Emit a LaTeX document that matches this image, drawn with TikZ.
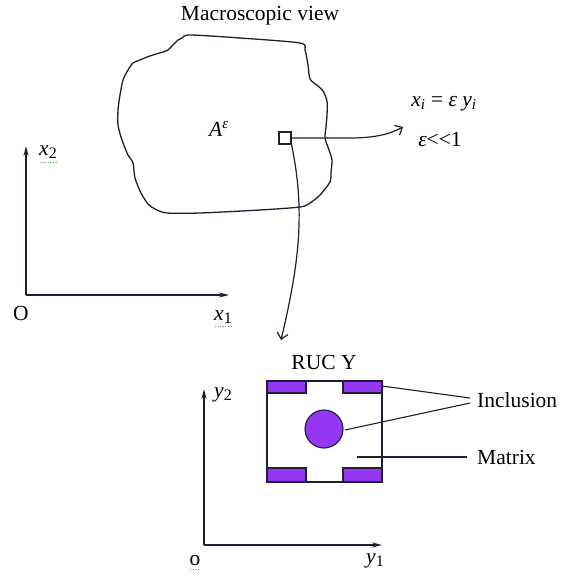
\documentclass[tikz,border=0pt]{standalone}
\usepackage{fontspec}
\setmainfont{Liberation Serif}
\usetikzlibrary{arrows.meta}
\definecolor{incl}{RGB}{150,55,245}
\definecolor{ink}{RGB}{30,30,50}
\newcommand{\dsub}[1]{\raisebox{-3pt}{\fontsize{16}{18}\selectfont #1}}
\tikzset{
  lbl/.style={inner sep=0pt, font=\fontsize{21.5}{24}\selectfont},
  axis/.style={ink, line width=1.4pt, -{Stealth[length=10pt,width=5pt]}},
  curvearrow/.style={ink, line width=1.2pt, -{Straight Barb[length=6pt,width=11pt]}},
  leader/.style={ink, line width=1.1pt},
  incbox/.style={draw=ink, line width=1.1pt, fill=incl},
  squig/.style={gray!70!green, line width=0.6pt, dotted}
}
\begin{document}
\begin{tikzpicture}[x=1pt,y=-1pt]
\useasboundingbox (0,0) rectangle (566,577);
% title
\node[lbl] (title) at (260,16) {Macroscopic view};
% blob
\draw[ink, line width=1.3pt] plot[smooth cycle, tension=0.45] coordinates {
 (182,38) (190,35) (240,38) (300,43) (305,50) (308,65) (310,79) (318,86) (323,91)
 (327,101) (327,115) (326,127) (325,138) (329,150) (332,160) (331,172) (330,182)
 (320,195) (310,203) (300,207) (260,210) (200,213) (167,213) (155,209) (148,204)
 (141,193) (135,178) (133,163) (128,155) (125,148) (121,137) (118,125) (118,110)
 (120,95) (123,80) (128,70) (133,63) (140,60) (147,57) (156,54) (163,52) (168,50)
 (173,45) (178,40)};
\node[lbl] (A) at (219,129) {\textit{A}\textsuperscript{\textit{ε}}};
% small square
\node[draw=ink, line width=1.1pt, minimum size=12pt, inner sep=0pt] (sq) at (285,138) {};
\coordinate (rt) at (403,127);
\coordinate (dn) at (281,340);
\draw[curvearrow] (sq.east) -- (350,138) .. controls (375,138) and (390,134) .. (rt);
\draw[curvearrow] (sq.south east) .. controls (305,210) and (300,260) .. (dn);
% relation text
\node[lbl] (rel) at (444,104) {\textit{x}\textsubscript{\textit{i}} = \textit{ε y}\textsubscript{\textit{i}}};
\node[lbl] (eps) at (440,140) {\textit{ε}{<}{<}1};
% left axes
\coordinate (o1) at (26,295);
\coordinate (x2t) at (26,146);
\coordinate (x1t) at (229,295);
\draw[axis] (o1) -- (x2t);
\draw[axis] (o1) -- (x1t);
\node[lbl] (x2) at (48,152) {\textit{x}\dsub{2}};
\node[lbl] (O) at (21,313) {O};
\node[lbl] (x1) at (223,317) {\textit{x}\dsub{1}};
\draw[squig] (40,162) -- (56,162);
\draw[squig] (215,326) -- (231,326);
% RUC
\node[lbl] (ruc) at (324,362) {RUC Y};
\draw[incbox] (267,381) rectangle (306,393);
\draw[incbox] (343,381) rectangle (382,393);
\draw[incbox] (267,468) rectangle (306,482);
\draw[incbox] (343,468) rectangle (382,482);
\node[draw=ink, line width=1.4pt, minimum width=115pt, minimum height=101pt, inner sep=0pt] (box) at (324.5,431.5) {};
\node[circle, draw=ink, line width=1.1pt, fill=incl, minimum size=38pt, inner sep=0pt] (circ) at (324,429) {};
% labels
\node[lbl, anchor=west] (inc) at (477,400) {Inclusion};
\node[lbl, anchor=west] (mat) at (477,457) {Matrix};
\coordinate (ia) at (470,398);
\coordinate (ib) at (470,403);
\coordinate (bs) at (382,386);
\coordinate (cs) at (345,430);
\draw[leader] (bs) -- (ia);
\draw[leader] (cs) -- (ib);
\coordinate (ma) at (357,457);
\coordinate (mb) at (467,457);
\draw[leader] (ma) -- (mb);
% bottom axes
\coordinate (o2) at (204,545);
\coordinate (y2t) at (204,389);
\coordinate (y1t) at (382,545);
\draw[axis] (o2) -- (y2t);
\draw[axis] (o2) -- (y1t);
\node[lbl] (y2) at (223,395) {\textit{y}\dsub{2}};
\node[lbl] (y1) at (375,561) {\textit{y}\dsub{1}};
\node[lbl] (o) at (195,561) {o};
\draw[squig] (190,569) -- (200,569);
\end{tikzpicture}
\end{document}
